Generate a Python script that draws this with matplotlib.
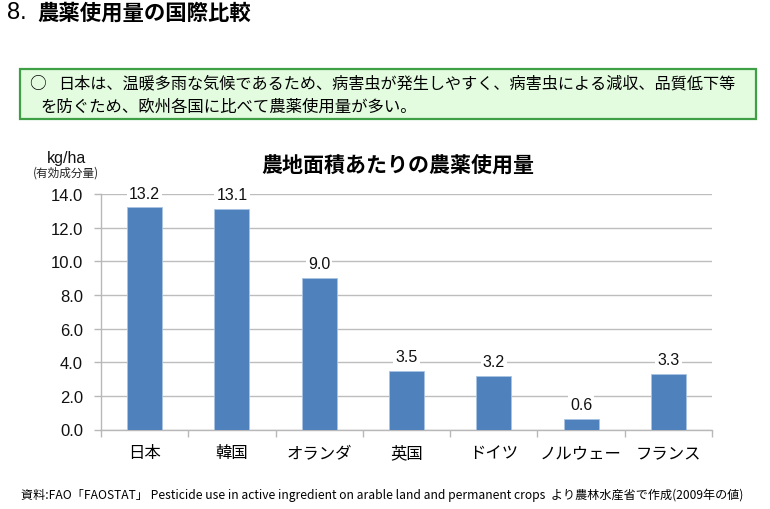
import matplotlib
matplotlib.use("Agg")
import matplotlib.pyplot as plt
from matplotlib.patches import Rectangle

plt.rcParams["font.family"] = ["Noto Sans CJK JP", "DejaVu Sans"]

countries = ["日本", "韓国", "オランダ", "英国", "ドイツ", "ノルウェー", "フランス"]
values = [13.2, 13.1, 9.0, 3.5, 3.2, 0.6, 3.3]
y_ticks = [0, 2, 4, 6, 8, 10, 12, 14]

W, H = 770, 510
fig = plt.figure(figsize=(W / 100, H / 100), dpi=100)

# axes placed in pixel coords of the reference
left, right, top, bottom = 101, 712, 195, 430.5
ax = fig.add_axes([left / W, 1 - bottom / H, (right - left) / W, (bottom - top) / H])

ax.bar(range(len(values)), values, width=0.4, color="#4f81bd", edgecolor="#a9c4e4", linewidth=0.6, zorder=3)
ax.set_xlim(-0.5, len(values) - 0.5)
ax.set_ylim(0, 14)
ax.set_yticks(y_ticks)
ax.set_yticklabels([f"{v:.1f}" for v in y_ticks], fontsize=12, color="#111111", family="Liberation Sans")
ax.set_xticks(range(len(values)))
ax.set_xticklabels(countries, fontsize=11.8, color="black")
ax.set_xticks([i - 0.5 for i in range(len(values) + 1)], minor=True)
ax.tick_params(axis="x", which="major", length=0, pad=10.5)
ax.tick_params(axis="x", which="minor", length=5, color="#b8b8b8", width=1)
ax.tick_params(axis="y", length=5, color="#b8b8b8", width=1, pad=8)
ax.grid(axis="y", color="#bdbdbd", linewidth=1, zorder=1)
for s in ["top", "right"]:
    ax.spines[s].set_visible(False)
for s in ["left", "bottom"]:
    ax.spines[s].set_color("#b8b8b8")
    ax.spines[s].set_linewidth(1)

for i, v in enumerate(values):
    ax.annotate(f"{v:.1f}", (i, v), xytext=(0, 5), textcoords="offset points", ha="center", va="bottom",
                fontsize=11.5, family="Liberation Sans", color="#111111", zorder=4,
                bbox=dict(facecolor="white", edgecolor="none", pad=1.5))


def px_text(x, y, s, **kw):
    fig.text(x / W, 1 - y / H, s, **kw)


px_text(7, 13, "8.", fontsize=17, family="Liberation Sans", va="center", color="black")
px_text(37, 13, "農薬使用量の国際比較", fontsize=15.4, fontweight="bold", va="center", color="black")

fig.add_artist(Rectangle((20 / W, 1 - 120 / H), 736 / W, 50 / H, transform=fig.transFigure,
                         facecolor="#e3fce0", edgecolor="#3f9f45", linewidth=1.6))
px_text(29, 84, "○", fontsize=12, va="center", color="black")
px_text(58, 84, "日本は、温暖多雨な気候であるため、病害虫が発生しやすく、病害虫による減収、品質低下等",
        fontsize=11.6, va="center", color="black")
px_text(40, 107, "を防ぐため、欧州各国に比べて農薬使用量が多い。", fontsize=11.8, va="center", color="black")

px_text(398, 165, "農地面積あたりの農薬使用量", fontsize=15.1, fontweight="bold", ha="center", va="center", color="black")
px_text(66, 158, "kg/ha", fontsize=11.5, family="Liberation Sans", ha="center", va="center", color="#111111")
px_text(66, 173, "(有効成分量)", fontsize=8.4, ha="center", va="center", color="#222222")

px_text(21, 495, "資料:FAO「FAOSTAT」 Pesticide use in active ingredient on arable land and permanent crops  より農林水産省で作成(2009年の値)",
        fontsize=8.7, va="center", color="black")

fig.savefig("out.png", dpi=100)
